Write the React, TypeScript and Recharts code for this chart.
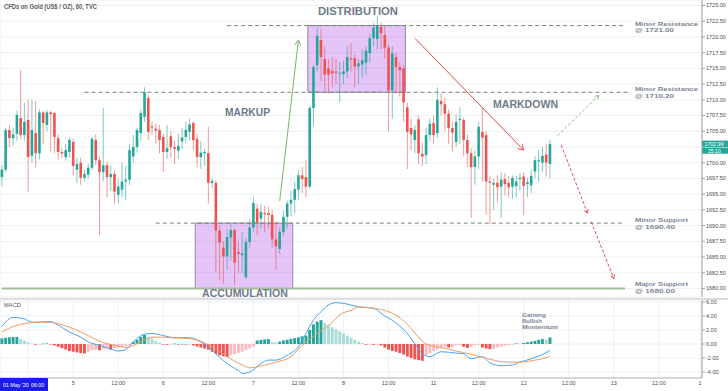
import React from 'react';
import { ComposedChart, Bar, Line, XAxis, YAxis, CartesianGrid, ReferenceLine, ReferenceArea } from 'recharts';

const FONT = '"Liberation Sans", Arial, Helvetica, sans-serif';
const GREEN = '#26a69a';
const RED = '#ef5350';
const SLOT_COUNT = 187;

// hourly candles: [open, high, low, close]
const candles: number[][] = [
  [1697.7, 1699.6, 1696.2, 1698.9], [1698.9, 1705.6, 1698.5, 1705.2], [1705.2, 1706.0, 1702.5, 1703.9], [1703.9, 1705.5, 1702.8, 1704.5],
  [1704.6, 1708.3, 1703.5, 1707.6], [1707.1, 1714.7, 1703.8, 1704.4], [1704.4, 1709.5, 1703.5, 1706.5], [1706.8, 1710.0, 1695.4, 1700.9],
  [1701.1, 1710.0, 1700.0, 1705.2], [1704.7, 1709.8, 1699.2, 1701.5], [1701.5, 1708.5, 1700.5, 1708.0], [1708.0, 1708.3, 1703.0, 1706.3],
  [1706.0, 1708.4, 1705.0, 1708.0], [1708.0, 1708.2, 1701.8, 1707.7], [1707.9, 1708.0, 1701.5, 1704.1], [1703.9, 1704.5, 1700.5, 1701.7],
  [1701.7, 1702.3, 1700.8, 1701.5], [1700.9, 1703.0, 1700.3, 1702.0], [1701.7, 1704.0, 1700.8, 1703.6], [1703.3, 1703.8, 1698.0, 1699.5],
  [1698.9, 1700.8, 1696.8, 1699.8], [1700.0, 1700.8, 1696.5, 1697.6], [1697.6, 1698.9, 1697.0, 1698.2], [1698.1, 1699.8, 1697.5, 1699.2],
  [1699.2, 1704.1, 1698.8, 1703.8], [1703.6, 1704.5, 1699.6, 1700.4], [1700.4, 1701.0, 1688.5, 1698.5], [1698.5, 1708.7, 1697.0, 1699.6],
  [1699.6, 1700.2, 1694.5, 1697.7], [1697.7, 1699.5, 1695.5, 1698.2], [1698.2, 1698.8, 1693.5, 1695.4], [1694.9, 1697.5, 1693.5, 1696.2],
  [1695.7, 1700.0, 1694.5, 1697.0], [1697.0, 1699.5, 1694.0, 1697.3], [1697.3, 1703.0, 1696.5, 1702.0], [1701.0, 1704.4, 1700.0, 1702.5],
  [1702.5, 1705.6, 1701.6, 1705.2], [1704.7, 1708.5, 1703.5, 1707.9], [1707.3, 1712.0, 1706.5, 1711.2], [1710.3, 1710.8, 1703.6, 1704.9],
  [1705.8, 1706.5, 1704.5, 1705.6], [1705.4, 1706.2, 1703.0, 1705.1], [1705.2, 1706.0, 1701.5, 1703.6], [1704.1, 1704.6, 1698.5, 1701.7],
  [1701.7, 1706.0, 1700.6, 1702.3], [1704.2, 1705.0, 1700.8, 1702.5], [1702.5, 1703.5, 1699.8, 1702.2], [1701.9, 1704.6, 1700.6, 1702.7],
  [1703.4, 1705.5, 1702.2, 1704.0], [1704.1, 1706.5, 1703.2, 1705.2], [1704.9, 1707.0, 1703.5, 1706.1], [1706.3, 1706.6, 1702.0, 1703.6],
  [1703.8, 1704.6, 1699.3, 1700.9], [1700.9, 1703.5, 1699.0, 1701.6], [1701.5, 1702.2, 1699.5, 1701.7], [1701.5, 1705.7, 1693.5, 1696.8],
  [1696.8, 1697.5, 1696.0, 1697.1], [1696.8, 1697.2, 1682.5, 1689.2], [1689.2, 1690.0, 1681.4, 1687.3], [1686.5, 1687.5, 1680.8, 1685.1],
  [1685.1, 1689.5, 1683.0, 1688.2], [1688.1, 1690.5, 1684.5, 1689.3], [1689.3, 1689.6, 1680.5, 1684.1], [1685.8, 1687.5, 1682.5, 1685.5],
  [1685.3, 1689.0, 1682.5, 1685.6], [1681.8, 1688.0, 1681.5, 1687.4], [1687.4, 1691.0, 1686.5, 1689.7], [1689.7, 1694.6, 1689.0, 1693.6],
  [1692.7, 1693.5, 1688.5, 1690.5], [1691.1, 1693.5, 1689.5, 1692.2], [1692.0, 1693.2, 1689.0, 1691.8], [1692.0, 1693.0, 1689.5, 1691.7],
  [1691.7, 1692.5, 1686.5, 1687.8], [1687.8, 1690.5, 1683.0, 1686.7], [1686.3, 1689.8, 1685.5, 1689.0], [1689.0, 1692.4, 1688.3, 1691.4],
  [1691.4, 1694.0, 1689.5, 1693.5], [1693.5, 1695.5, 1691.5, 1694.1], [1694.1, 1697.0, 1692.0, 1695.8], [1695.7, 1698.8, 1694.0, 1698.0],
  [1698.0, 1699.3, 1695.2, 1697.4], [1697.7, 1700.5, 1694.5, 1696.2], [1696.2, 1709.0, 1695.8, 1708.7], [1708.7, 1715.5, 1705.8, 1715.2],
  [1715.5, 1721.5, 1714.5, 1720.2], [1719.5, 1721.3, 1713.0, 1716.8], [1716.5, 1718.5, 1711.5, 1714.0], [1715.0, 1716.5, 1711.0, 1714.0],
  [1714.6, 1716.8, 1712.0, 1714.2], [1714.5, 1716.5, 1712.5, 1714.3], [1714.2, 1716.0, 1709.6, 1714.3], [1714.1, 1716.2, 1712.5, 1714.5],
  [1714.5, 1718.5, 1713.5, 1716.8], [1716.6, 1719.0, 1714.5, 1716.4], [1716.6, 1717.2, 1712.0, 1715.3], [1715.3, 1716.5, 1712.5, 1715.8],
  [1715.6, 1718.0, 1713.5, 1716.3], [1715.9, 1718.5, 1714.0, 1717.8], [1717.4, 1720.5, 1716.0, 1719.8], [1719.8, 1722.2, 1718.5, 1721.5],
  [1719.7, 1723.4, 1718.0, 1721.8], [1721.6, 1722.3, 1718.0, 1720.6], [1720.3, 1721.7, 1716.5, 1718.3], [1718.3, 1718.8, 1705.0, 1711.5],
  [1711.5, 1718.5, 1707.0, 1717.4], [1716.8, 1717.5, 1711.0, 1715.2], [1715.2, 1716.0, 1710.5, 1714.7], [1715.0, 1715.5, 1706.5, 1709.6],
  [1708.8, 1709.5, 1699.0, 1704.9], [1705.5, 1707.0, 1702.0, 1704.5], [1703.6, 1706.0, 1701.5, 1705.2], [1706.9, 1707.5, 1699.8, 1701.5],
  [1701.4, 1703.2, 1699.5, 1701.0], [1701.2, 1705.5, 1699.8, 1704.4], [1704.4, 1707.0, 1703.5, 1706.2], [1706.3, 1707.5, 1703.0, 1704.4],
  [1704.7, 1712.0, 1704.0, 1710.0], [1709.8, 1711.0, 1707.5, 1709.3], [1709.3, 1710.3, 1705.0, 1707.8], [1707.8, 1708.5, 1703.0, 1705.5],
  [1705.5, 1706.5, 1701.8, 1704.8], [1703.3, 1707.7, 1702.5, 1706.5], [1706.8, 1708.8, 1703.0, 1707.0], [1706.8, 1707.2, 1701.0, 1703.6],
  [1703.6, 1704.5, 1699.3, 1701.5], [1701.5, 1702.3, 1691.2, 1699.3], [1699.3, 1702.0, 1696.5, 1701.0], [1701.0, 1706.5, 1699.0, 1705.7],
  [1704.9, 1708.7, 1697.0, 1704.0], [1704.4, 1705.0, 1691.8, 1697.0], [1697.0, 1697.8, 1690.3, 1696.8], [1696.5, 1697.5, 1692.5, 1696.8],
  [1696.8, 1698.0, 1693.7, 1696.1], [1696.2, 1698.5, 1691.2, 1697.3], [1697.4, 1698.4, 1694.8, 1696.6], [1696.8, 1697.8, 1694.5, 1696.1],
  [1696.2, 1698.0, 1694.2, 1697.6], [1696.3, 1697.9, 1694.5, 1697.0], [1697.4, 1698.3, 1695.5, 1697.6], [1697.8, 1698.5, 1691.7, 1696.3],
  [1696.6, 1697.6, 1694.5, 1696.9], [1696.4, 1698.9, 1695.2, 1697.9], [1698.6, 1701.0, 1697.5, 1700.4], [1700.2, 1702.0, 1697.0, 1700.4],
  [1700.0, 1702.5, 1698.5, 1701.1], [1701.3, 1703.0, 1697.8, 1700.0], [1699.8, 1703.6, 1697.5, 1702.99],
];

const histogram: number[] = [
  0.8, 0.9, 0.95, 1.0, 1.02, 0.7, 0.5, 0.25, 0.08, -0.1,
  -0.05, 0.05, 0.08, -0.05, -0.2, -0.4, -0.6, -0.8, -1.0, -1.1,
  -1.2, -1.3, -1.35, -1.1, -0.9, -0.85, -0.9, -0.7, -0.65, -0.8,
  -0.6, -0.5, -0.4, -0.3, -0.15, 0.3, 0.6, 1.0, 1.3, 1.05,
  0.75, 0.45, 0.2, -0.05, -0.1, -0.05, 0.05, -0.05, 0.02, -0.08,
  -0.05, -0.2, -0.35, -0.5, -0.65, -0.8, -1.1, -1.4, -1.6, -1.75,
  -1.85, -1.6, -1.45, -1.3, -1.1, -0.85, -0.6, -0.35, 0.5, 0.6,
  0.65, 0.7, 0.3, 0.25, 0.35, 0.5, 0.6, 0.75, 0.85, 0.95,
  1.1, 1.2, 2.0, 2.8, 3.2, 3.4, 3.0, 2.7, 2.4, 2.1,
  1.8, 1.5, 1.2, 0.9, 0.6, 0.35, 0.15, -0.1, -0.05, -0.12,
  -0.1, -0.2, -0.5, -0.8, -1.0, -1.1, -1.3, -1.5, -1.8, -2.0,
  -2.2, -2.3, -2.4, -1.6, -1.3, -1.0, -0.8, -0.6, -0.4, -0.5,
  -0.45, -0.2, -0.15, -0.4, -0.55, -0.45, -0.2, -0.1, -0.5, -0.65,
  -0.75, -0.7, -0.5, -0.35, -0.25, -0.15, -0.1, 0.08, 0.06, 0.15,
  0.25, 0.35, 0.45, 0.6, 0.7, 0.65, 0.95,
];

// [bar index, value]
const macdPoints: number[][] = [
  [0, 2.5], [3, 3.8], [6, 3.6], [8, 3.1], [13, 3.2], [15, 2.7], [18, 1.7], [21, 1.0], [23, 0.3], [26, -0.2],
  [29, -0.7], [31, -1.0], [33, -0.8], [35, 0.3], [38, 1.4], [40, 1.5], [43, 1.2], [46, 0.9], [50, 0.9], [53, 0.3],
  [55, -0.4], [57, -1.4], [60, -2.8], [63, -3.8], [64, -4.2], [66, -4.0], [69, -2.8], [71, -2.3], [73, -2.3], [76, -1.6],
  [79, -0.4], [81, 1.5], [83, 3.4], [85, 4.6], [87, 5.6], [89, 5.9], [92, 5.7], [95, 5.3], [99, 5.1], [101, 4.4],
  [102, 4.0], [104, 3.4], [105, 3.0], [108, 1.5], [110, 0.05], [112, -1.4], [114, -1.8], [117, -1.1], [121, -1.3], [123, -1.4],
  [125, -2.1], [128, -1.8], [130, -2.7], [133, -3.1], [136, -3.0], [138, -2.6], [141, -2.1], [144, -1.5], [146, -0.9],
];
const signalPoints: number[][] = [
  [0, 1.7], [3, 2.5], [7, 3.0], [9, 3.1], [13, 3.1], [15, 2.9], [19, 2.2], [23, 1.2], [26, 0.4], [30, -0.2],
  [33, -0.5], [35, -0.2], [39, 0.8], [41, 1.0], [45, 0.9], [49, 0.8], [53, 0.4], [56, -0.4], [60, -1.8], [64, -3.0],
  [66, -3.4], [70, -3.0], [73, -2.6], [77, -1.8], [80, -0.2], [84, 1.5], [88, 3.1], [90, 4.2], [93, 4.8], [95, 5.3],
  [99, 5.1], [102, 4.8], [105, 4.1], [108, 2.8], [111, 1.0], [113, 0.0], [117, -0.5], [121, -1.0], [126, -1.6], [130, -2.2],
  [135, -2.6], [138, -2.6], [141, -2.4], [144, -2.1], [146, -1.8],
];

const timeTickIndex = [7, 19, 31, 43, 55, 67, 79, 91, 103, 115, 127, 139, 151, 163, 175, 186];
// first label sits under the crosshair date box, so it is not shown
const timeTickLabels = ['', '5', '12:00', '6', '12:00', '7', '12:00', '8', '12:00', '11', '12:00', '12', '12:00', '13', '12:00', '1'];
const priceTicks = [1680, 1682.5, 1685, 1687.5, 1690, 1692.5, 1695, 1697.5, 1700, 1702.5, 1705, 1707.5, 1710, 1712.5, 1715, 1717.5, 1720, 1722.5, 1725];
const macdTicks = [-4, -2, 0, 2, 4, 6];

const dashedLevels = [
  { price: 1721.8, from: 60, to: 166 },
  { price: 1711.2, from: 22, to: 167 },
  { price: 1690.4, from: 41, to: 166 },
];
const majorSupport = { price: 1680.0, from: 0, to: 166 };
const boxes = [
  { from: 82, to: 107, low: 1711.2, high: 1721.8 },
  { from: 52, to: 77, low: 1680.0, high: 1690.4 },
];
const arrows = [
  { from: [74, 1693.9], to: [79, 1719.5], color: '#7db46c', dash: undefined as string | undefined, head: 6 },
  { from: [110, 1719.8], to: [139, 1702.0], color: '#e5484d', dash: undefined as string | undefined, head: 6 },
  { from: [148, 1704.3], to: [159, 1710.7], color: '#8fbf80', dash: '3 2', head: 4 },
  { from: [149, 1702.8], to: [156, 1692.0], color: '#e5484d', dash: '3 2', head: 4 },
  { from: [157, 1690.6], to: [163, 1681.6], color: '#e5484d', dash: '3 2', head: 4 },
];
const countdown = '25:10';

const toMap = (pts: number[][]) => new Map(pts.map((p) => [p[0], p[1]]));
const macdMap = toMap(macdPoints);
const signalMap = toMap(signalPoints);

const histColor = (i: number) => {
  const v = histogram[i];
  const prev = i > 0 ? histogram[i - 1] : v;
  if (v >= 0) return v >= prev ? '#26a69a' : '#a8dcd6';
  return v <= prev ? '#ef5350' : '#f8bbc2';
};

const rows = Array.from({ length: SLOT_COUNT }, (_, i) => {
  const k = candles[i];
  return {
    i,
    range: k ? [k[2], k[1]] : undefined,
    o: k ? k[0] : undefined,
    h: k ? k[1] : undefined,
    l: k ? k[2] : undefined,
    c: k ? k[3] : undefined,
    hist: histogram[i] !== undefined ? histogram[i] : undefined,
    histColor: histogram[i] !== undefined ? histColor(i) : undefined,
    macd: macdMap.has(i) ? macdMap.get(i) : null,
    signal: signalMap.has(i) ? signalMap.get(i) : null,
  };
});
const lastClose = candles[candles.length - 1][3];

const CandleShape = (props: any) => {
  const { x, y, width, height, payload } = props;
  if (!payload || payload.o === undefined || x == null || y == null) return null;
  const { o, h, l, c } = payload;
  const top = Math.min(y, y + height);
  const hh = Math.abs(height);
  const span = h - l || 1;
  const yOf = (v: number) => top + ((h - v) / span) * hh;
  const cx = x + width / 2;
  const up = c >= o;
  const col = up ? GREEN : RED;
  const bTop = yOf(Math.max(o, c));
  const bBot = yOf(Math.min(o, c));
  const bw = 2.6;
  return (
    <g>
      <line x1={cx} x2={cx} y1={top} y2={top + hh} stroke={col} strokeOpacity={0.6} strokeWidth={1} />
      <rect x={cx - bw / 2} y={bTop} width={bw} height={Math.max(1, bBot - bTop)} fill={col} />
    </g>
  );
};

const HistShape = (props: any) => {
  const { x, y, width, height, payload } = props;
  if (!payload || payload.hist === undefined || x == null || y == null) return null;
  const top = Math.min(y, y + height);
  const hh = Math.max(0.6, Math.abs(height));
  const cx = x + width / 2;
  return <rect x={cx - 1.45} y={top} width={2.9} height={hh} fill={payload.histColor} />;
};

const makeArrow = (head: number, dash?: string) => (props: any) => {
  const { x1, y1, x2, y2, stroke } = props;
  if ([x1, y1, x2, y2].some((v) => v == null || Number.isNaN(v))) return null;
  const ang = Math.atan2(y2 - y1, x2 - x1);
  const a1 = ang + Math.PI - 0.55;
  const a2 = ang + Math.PI + 0.55;
  const p1 = `${x2 + head * Math.cos(a1)},${y2 + head * Math.sin(a1)}`;
  const p2 = `${x2 + head * Math.cos(a2)},${y2 + head * Math.sin(a2)}`;
  return (
    <g>
      <line x1={x1} y1={y1} x2={x2} y2={y2} stroke={stroke} strokeWidth={1} strokeDasharray={dash} />
      <polyline points={`${p1} ${x2},${y2} ${p2}`} fill="none" stroke={stroke} strokeWidth={1} />
    </g>
  );
};

const PriceTag = (props: any) => {
  const vb = props.viewBox;
  if (!vb) return null;
  const right = vb.x + vb.width;
  const y = vb.y;
  return (
    <g>
      <rect x={right} y={y - 3.3} width={26} height={6.6} fill={GREEN} />
      <text x={right + 2.5} y={y + 1.9} fontSize={5.3} fill="#fff" fontFamily={FONT}>{lastClose.toFixed(2)}</text>
      <rect x={right} y={y + 3.8} width={26} height={6} fill={GREEN} />
      <text x={right + 6} y={y + 8.7} fontSize={5.1} fill="#fff" fontFamily={FONT}>{countdown}</text>
    </g>
  );
};

// price-scale labels that sit under the last-price tag are hidden, as on the reference
const priceLabel = (v: number) => (Math.abs(v - lastClose) < 1.6 ? '' : v.toFixed(2));

const TXT = '#6f7a89';
const LBL = '#7b8594';

const LevelLabel = ({ x, y, line1, w1, line2, w2 }: { x: number; y: number; line1: string; w1: number; line2: string; w2: number }) => (
  <g>
    <text x={x} y={y} fontSize={5.8} fontWeight="bold" fill={LBL} textLength={w1} lengthAdjust="spacingAndGlyphs">{line1}</text>
    <text x={x} y={y + 6.8} fontSize={5.8} fontWeight="bold" fill={LBL} textLength={w2} lengthAdjust="spacingAndGlyphs">{line2}</text>
  </g>
);

export default function App() {
  const tickStyle = { fontSize: 5.5, fill: '#4a4a4a', fontFamily: FONT };
  return (
    <div style={{ position: 'absolute', left: 0, top: 0, width: 728, height: 391, background: '#fff', overflow: 'hidden', fontFamily: FONT }}>
      <div style={{ position: 'absolute', left: 0, top: 0 }}>
        <ComposedChart width={728} height={298} data={rows} margin={{ top: 0, right: 0, bottom: 0, left: 0 }}>
          <CartesianGrid stroke="#eef0f3" />
          <XAxis dataKey="i" type="category" allowDuplicatedCategory={false} ticks={timeTickIndex} interval={0} height={1} tick={false} tickLine={false} axisLine={false} />
          <YAxis orientation="right" width={26} type="number" domain={[1678.65, 1725.87]} allowDataOverflow ticks={priceTicks} interval={0}
            tickFormatter={priceLabel} tick={tickStyle} tickSize={3} tickMargin={1}
            axisLine={{ stroke: '#a0a0a0' }} tickLine={{ stroke: '#a0a0a0' }} />
          <Bar dataKey="range" isAnimationActive={false} shape={CandleShape} />
          {boxes.map((b, k) => (
            <ReferenceArea key={'b' + k} x1={b.from} x2={b.to} y1={b.low} y2={b.high} fill="#aa3ce6" fillOpacity={0.3} stroke="#8d7ea6" strokeWidth={1} strokeOpacity={0.9} ifOverflow="visible" />
          ))}
          {dashedLevels.map((lv, k) => (
            <ReferenceLine key={'l' + k} segment={[{ x: lv.from, y: lv.price }, { x: lv.to, y: lv.price }]} stroke="#76876c" strokeDasharray="4 3" strokeWidth={1} ifOverflow="visible" />
          ))}
          <ReferenceLine segment={[{ x: majorSupport.from, y: majorSupport.price }, { x: majorSupport.to, y: majorSupport.price }]} stroke="#a6bd9b" strokeWidth={2} ifOverflow="visible" />
          {arrows.map((a, k) => (
            <ReferenceLine key={'a' + k} segment={[{ x: a.from[0], y: a.from[1] }, { x: a.to[0], y: a.to[1] }]} stroke={a.color} ifOverflow="visible" shape={makeArrow(a.head, a.dash)} />
          ))}
          <ReferenceLine y={lastClose} stroke="none" ifOverflow="visible" label={PriceTag} />
        </ComposedChart>
      </div>
      <div style={{ position: 'absolute', left: 0, top: 297.5, width: 728, height: 2, background: '#d8d9dc' }} />
      <div style={{ position: 'absolute', left: 0, top: 299 }}>
        <ComposedChart width={728} height={92} data={rows} margin={{ top: 1, right: 0, bottom: 0, left: 0 }}>
          <CartesianGrid stroke="#eef0f3" />
          <XAxis dataKey="i" type="category" allowDuplicatedCategory={false} ticks={timeTickIndex} interval={0} height={13}
            tickFormatter={(v: number) => timeTickLabels[timeTickIndex.indexOf(v)] ?? ''} tick={tickStyle}
            tickLine={false} tickSize={0} tickMargin={3} axisLine={{ stroke: '#b5b5b5' }} />
          <YAxis orientation="right" width={26} type="number" domain={[-4.857, 6.286]} allowDataOverflow ticks={macdTicks} interval={0}
            tickFormatter={(v: number) => v.toFixed(2)} tick={tickStyle} tickSize={3} tickMargin={1}
            axisLine={{ stroke: '#a0a0a0' }} tickLine={{ stroke: '#a0a0a0' }} />
          <Bar dataKey="hist" isAnimationActive={false} shape={HistShape} />
          <Line dataKey="macd" type="monotone" connectNulls dot={false} stroke="#42a5f5" strokeWidth={1} isAnimationActive={false} />
          <Line dataKey="signal" type="monotone" connectNulls dot={false} stroke="#f59a5e" strokeWidth={1} isAnimationActive={false} />
        </ComposedChart>
      </div>
      <svg width={728} height={391} style={{ position: 'absolute', left: 0, top: 0, pointerEvents: 'none' }} fontFamily={FONT}>
        <text x={4} y={9} fontSize={6.3} fontWeight="bold" fill="#5c5c5c" textLength={93} lengthAdjust="spacingAndGlyphs">CFDs on Gold (US$ / OZ), 60, TVC</text>
        <text x={318} y={15} fontSize={11} fontWeight="bold" fill={TXT} textLength={80} lengthAdjust="spacingAndGlyphs">DISTRIBUTION</text>
        <text x={225} y={116} fontSize={10.5} fontWeight="bold" fill={TXT} textLength={45} lengthAdjust="spacingAndGlyphs">MARKUP</text>
        <text x={493} y={108} fontSize={10.5} fontWeight="bold" fill={TXT} textLength={65} lengthAdjust="spacingAndGlyphs">MARKDOWN</text>
        <text x={202} y={296.5} fontSize={10.5} fontWeight="bold" fill={TXT} textLength={86} lengthAdjust="spacingAndGlyphs">ACCUMULATION</text>

        <LevelLabel x={635} y={25.5} line1="Minor Resistance" w1={63} line2="@ 1721.00" w2={39} />
        <LevelLabel x={635} y={91} line1="Minor Resistance" w1={63} line2="@ 1710.20" w2={39} />
        <LevelLabel x={635} y={222} line1="Minor Support" w1={53} line2="@ 1690.40" w2={40} />
        <LevelLabel x={635} y={285.8} line1="Major Support" w1={53} line2="@ 1680.00" w2={40} />

        <text x={522} y={317} fontSize={5.3} fontWeight="bold" fill={LBL} textLength={24} lengthAdjust="spacingAndGlyphs">Gaining</text>
        <text x={522} y={322.9} fontSize={5.3} fontWeight="bold" fill={LBL} textLength={20} lengthAdjust="spacingAndGlyphs">Bullish</text>
        <text x={522} y={328.8} fontSize={5.3} fontWeight="bold" fill={LBL} textLength={36} lengthAdjust="spacingAndGlyphs">Momentum</text>

        <text x={4} y={307.3} fontSize={5.5} fill="#555" textLength={17} lengthAdjust="spacingAndGlyphs">MACD</text>
        <rect x={0} y={378} width={48} height={13} fill="#1c1ce8" />
        <text x={3} y={386.8} fontSize={5.3} fill="#fff">01 May '20</text>
        <text x={31} y={386.8} fontSize={5.3} fill="#fff">06:00</text>
      </svg>
    </div>
  );
}
